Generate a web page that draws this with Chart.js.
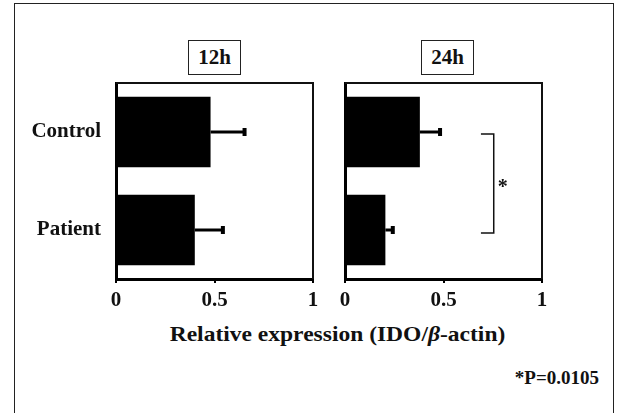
<!DOCTYPE html>
<html>
<head>
<meta charset="utf-8">
<script src="https://cdn.jsdelivr.net/npm/chart.js@4"></script>
<style>
  html, body { margin: 0; padding: 0; background: #fff; }
  #page { position: relative; width: 620px; height: 413px; overflow: hidden;
          font-family: "Liberation Serif", "DejaVu Serif", serif; font-weight: bold; color: #111; }
  #frame { position: absolute; left: 14px; top: 3px; width: 598px; height: 430px;
           border: 1.5px solid #222; border-bottom: none; }
  .panelTitle { position: absolute; top: 40px; height: 33px; line-height: 33px;
                border: 1.5px solid #222; text-align: center; font-size: 21px; background: #fff; }
  .chartBox { position: absolute; top: 75px; height: 245px; }
  #axisTitle { position: absolute; left: 0; width: 675px; top: 321px; line-height: 26px;
               text-align: center; font-size: 21px; transform: scaleX(1.12); }
  #pValue { position: absolute; right: 21px; top: 366px; line-height: 24px; font-size: 19px; }
</style>
</head>
<body>
<div id="page">
  <div id="frame"></div>
  <div class="panelTitle" id="title12" style="left:188px; width:51px;">12h</div>
  <div class="panelTitle" id="title24" style="left:421px; width:51px;">24h</div>
  <div class="chartBox" style="left:0; width:330px;"><canvas id="chart12h"></canvas></div>
  <div class="chartBox" style="left:229px; width:330px;"><canvas id="chart24h"></canvas></div>
  <div id="axisTitle">Relative expression (IDO/<i>β</i>-actin)</div>
  <div id="pValue">*P=0.0105</div>
</div>

<script>
/* ======================================
   DATA
====================================== */
const groups = ["Control", "Patient"];

const mean12h = [0.48, 0.40];
const sd12h   = [0.17, 0.14];

const mean24h = [0.38, 0.205];
const sd24h   = [0.10, 0.035];

const xTicks = [0, 0.5, 1];

// significance bracket on the 24h panel (x range in data units)
const bracket24h = { from: 0.69, to: 0.755, label: "*" };

const FONT = "Liberation Serif";


/* ======================================
   PLUGINS
====================================== */
// error bar whiskers (one-sided, to the right)
const errorBars = {
    id: "errorBars",
    afterDatasetsDraw(chart, args, opts) {
        const { ctx, scales: { x, y } } = chart;
        const means = chart.data.datasets[0].data;
        ctx.save();
        ctx.strokeStyle = "#000";
        ctx.fillStyle = "#000";
        ctx.lineWidth = 3;
        means.forEach((m, i) => {
            const yc = y.getPixelForValue(i);
            const x0 = x.getPixelForValue(m);
            const x1 = x.getPixelForValue(m + opts.sd[i]);
            ctx.beginPath();
            ctx.moveTo(x0, yc);
            ctx.lineTo(x1, yc);
            ctx.stroke();
            ctx.fillRect(x1 - 1.5, yc - 4, 4, 8);
        });
        ctx.restore();
    }
};

// thin frame on the top and right of the plot area
const plotFrame = {
    id: "plotFrame",
    beforeDatasetsDraw(chart) {
        const { ctx, chartArea: a } = chart;
        ctx.save();
        ctx.strokeStyle = "#111";
        ctx.lineWidth = 2;
        ctx.beginPath();
        ctx.moveTo(a.left, a.top);
        ctx.lineTo(a.right, a.top);
        ctx.lineTo(a.right, a.bottom);
        ctx.stroke();
        ctx.restore();
    }
};

// significance bracket between the two groups
const sigBracket = {
    id: "sigBracket",
    afterDatasetsDraw(chart, args, opts) {
        if (!opts.bracket) return;
        const { ctx, scales: { x, y } } = chart;
        const b = opts.bracket;
        const xl = x.getPixelForValue(b.from);
        const xr = x.getPixelForValue(b.to);
        const y0 = y.getPixelForValue(0) + 2;
        const y1 = y.getPixelForValue(1) + 3;
        ctx.save();
        ctx.strokeStyle = "#111";
        ctx.lineWidth = 1.5;
        ctx.beginPath();
        ctx.moveTo(xl, y0);
        ctx.lineTo(xr, y0);
        ctx.lineTo(xr, y1);
        ctx.lineTo(xl, y1);
        ctx.stroke();
        ctx.fillStyle = "#111";
        ctx.font = "bold 20px " + FONT;
        ctx.textAlign = "left";
        ctx.textBaseline = "middle";
        ctx.fillText(b.label, xr + 4, (y0 + y1) / 2 + 4);
        ctx.restore();
    }
};


/* ======================================
   PANEL BUILDER
====================================== */
function drawPanel(canvasId, means, sds, showLabels, bracket) {
    const ctx = document.getElementById(canvasId).getContext("2d");

    return new Chart(ctx, {
        type: "bar",
        data: {
            labels: groups,
            datasets: [{
                data: means,
                backgroundColor: "#000",
                borderWidth: 0,
                categoryPercentage: 0.72,
                barPercentage: 1.0
            }]
        },
        options: {
            indexAxis: "y",
            responsive: true,
            maintainAspectRatio: false,
            animation: false,
            layout: { padding: { top: 8, bottom: 11, right: 17, left: 0 } },
            plugins: {
                legend: { display: false },
                tooltip: { enabled: false },
                errorBars: { sd: sds },
                sigBracket: { bracket }
            },
            scales: {
                x: {
                    min: 0,
                    max: 1,
                    afterBuildTicks: s => { s.ticks = xTicks.map(v => ({ value: v })); },
                    border: { color: "#000", width: 3 },
                    grid: { drawOnChartArea: false, drawTicks: true, tickLength: 4, color: "#000", lineWidth: 2 },
                    ticks: {
                        color: "#111",
                        padding: 5,
                        callback: v => String(v),
                        font: { family: FONT, size: 21, weight: "bold" }
                    },
                    afterFit: s => { s.height = 30; s.paddingLeft = 0; s.paddingRight = 0; }
                },
                y: {
                    border: { color: "#000", width: 3 },
                    grid: { display: false },
                    ticks: {
                        display: showLabels,
                        color: "#111",
                        padding: 7,
                        font: { family: FONT, size: 21, weight: "bold" }
                    },
                    afterFit: s => { s.width = 116; s.paddingTop = 0; s.paddingBottom = 0; }
                }
            }
        },
        plugins: [plotFrame, errorBars, sigBracket]
    });
}


/* INITIAL DRAW */
drawPanel("chart12h", mean12h, sd12h, true, null);
drawPanel("chart24h", mean24h, sd24h, false, bracket24h);
</script>
</body>
</html>
